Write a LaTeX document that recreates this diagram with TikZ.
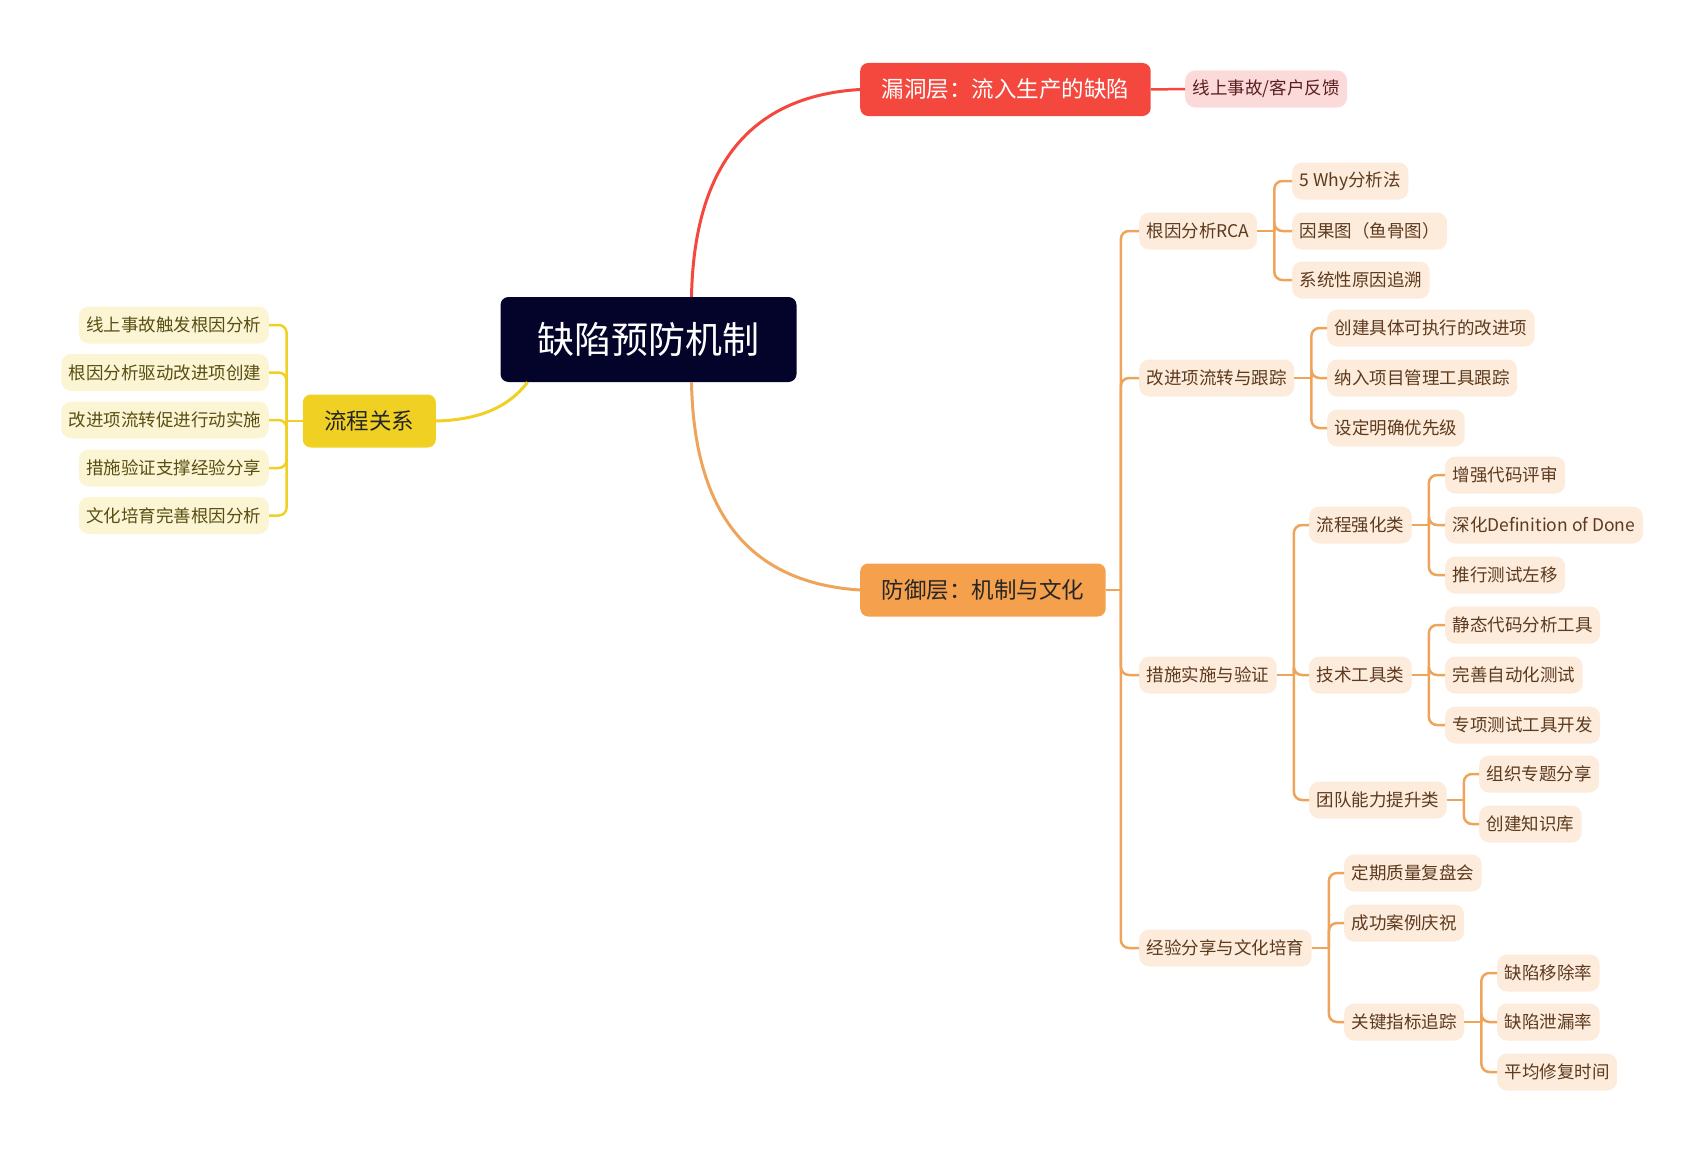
\documentclass[tikz,border=0pt]{standalone}
\usepackage{fontspec}
\setmainfont{Noto Sans CJK SC}
\usetikzlibrary{positioning,calc}
\definecolor{rootcolor}{RGB}{4,4,43}
\definecolor{leakcolor}{RGB}{244,71,62}
\definecolor{leakleaf}{RGB}{252,218,218}
\definecolor{leaktext}{RGB}{90,30,30}
\definecolor{defcolor}{RGB}{244,160,76}
\definecolor{defline}{RGB}{239,164,91}
\definecolor{defleaf}{RGB}{253,235,220}
\definecolor{deftext}{RGB}{92,58,30}
\definecolor{flowcolor}{RGB}{241,208,36}
\definecolor{flowleaf}{RGB}{252,245,211}
\definecolor{flowtext}{RGB}{88,78,20}

\begin{document}
\begin{tikzpicture}[x=1pt,y=-1pt,
  root/.style={rectangle,rounded corners=8pt,fill=rootcolor,text=white,font=\fontsize{37}{40}\selectfont,minimum height=85pt,inner xsep=37pt},
  main/.style={rectangle,rounded corners=8pt,font=\fontsize{22.5}{26}\selectfont,minimum height=53pt,inner xsep=21.5pt},
  leaf/.style={rectangle,rounded corners=10pt,font=\fontsize{17.5}{20}\selectfont,minimum height=37pt,inner xsep=7.5pt},
  dleaf/.style={leaf,anchor=west,fill=defleaf,text=deftext},
  yleaf/.style={leaf,anchor=east,fill=flowleaf,text=flowtext},
  trunk/.style={line width=3pt},
  twig/.style={line width=2.5pt,defline,rounded corners=8pt},
  ytwig/.style={twig,flowcolor}]
\useasboundingbox (0,0) rectangle (1698,1156);
\node[root] (root) at (648.5,339.5) {缺陷预防机制};
\node[main,anchor=west,fill=leakcolor,text=white] (leak) at (860,89.5) {漏洞层：流入生产的缺陷};
\node[main,anchor=west,fill=defcolor,text=black!85] (def) at (860,590) {防御层：机制与文化};
\node[main,anchor=east,fill=flowcolor,text=black!85] (flow) at (436,421) {流程关系};
\draw[trunk,leakcolor] ([xshift=43pt]root.north) .. controls (694,166) and (750,96) .. (leak.west);
\draw[trunk,defline] ([xshift=43pt]root.south) .. controls (694,514) and (750,583) .. (def.west);
\draw[trunk,flowcolor] ([xshift=-121pt]root.south) .. controls (509,407) and (479,420) .. (flow.east);
\node[leaf,anchor=west,fill=leakleaf,text=leaktext] (fb) at (1185,89) {线上事故/客户反馈};
\draw[line width=2.5pt,leakcolor] (leak.east) -- (fb.west);
\foreach \n/\y/\t in {y1/325/线上事故触发根因分析,y2/372.5/根因分析驱动改进项创建,
  y3/420/改进项流转促进行动实施,y4/468/措施验证支撑经验分享,y5/515.5/文化培育完善根因分析}{
  \node[yleaf] (\n) at (269,\y) {\t};}
\draw[ytwig] (flow.west) -- ++(-16,0);
\foreach \c in {y1,y2,y3,y4,y5}
  \draw[ytwig] ([xshift=-16pt]flow.west) |- (\c.east);
\foreach \n/\y/\t in {rca/231/根因分析RCA,imp/378/改进项流转与跟踪,act/675/措施实施与验证,cul/948/经验分享与文化培育}{
  \node[dleaf] (\n) at (1139,\y) {\t};}
\draw[twig] (def.east) -- ++(15,0);
\foreach \c in {rca,imp,act,cul}
  \draw[twig] ([xshift=15pt]def.east) |- (\c.west);
\foreach \n/\y/\t in {r1/181/5 Why分析法,r2/231/因果图（鱼骨图）,r3/280/系统性原因追溯}{
  \node[dleaf] (\n) at (1292,\y) {\t};}
\foreach \n/\y/\t in {i1/328/创建具体可执行的改进项,i2/378/纳入项目管理工具跟踪,i3/428/设定明确优先级}{
  \node[dleaf] (\n) at (1327,\y) {\t};}
\foreach \n/\y/\t in {a1/525/流程强化类,a2/675/技术工具类,a3/800/团队能力提升类}{
  \node[dleaf] (\n) at (1309,\y) {\t};}
\foreach \n/\y/\t in {p1/475/增强代码评审,p2/525/深化Definition of Done,p3/575/推行测试左移,
  t1/625/静态代码分析工具,t2/675/完善自动化测试,t3/725/专项测试工具开发}{
  \node[dleaf] (\n) at (1445,\y) {\t};}
\foreach \n/\y/\t in {g1/774/组织专题分享,g2/824/创建知识库}{
  \node[dleaf] (\n) at (1479,\y) {\t};}
\foreach \n/\y/\t in {c1/873/定期质量复盘会,c2/923/成功案例庆祝,c3/1022/关键指标追踪}{
  \node[dleaf] (\n) at (1344,\y) {\t};}
\foreach \n/\y/\t in {k1/973/缺陷移除率,k2/1022/缺陷泄漏率,k3/1072/平均修复时间}{
  \node[dleaf] (\n) at (1497,\y) {\t};}
\foreach \p/\cs in {rca/{r1,r2,r3},imp/{i1,i2,i3},act/{a1,a2,a3},a1/{p1,p2,p3},
  a2/{t1,t2,t3},a3/{g1,g2},cul/{c1,c2,c3},c3/{k1,k2,k3}}{
  \draw[twig] (\p.east) -- ++(17,0);
  \foreach \c in \cs
    \draw[twig] ([xshift=17pt]\p.east) |- (\c.west);}
\end{tikzpicture}
\end{document}
